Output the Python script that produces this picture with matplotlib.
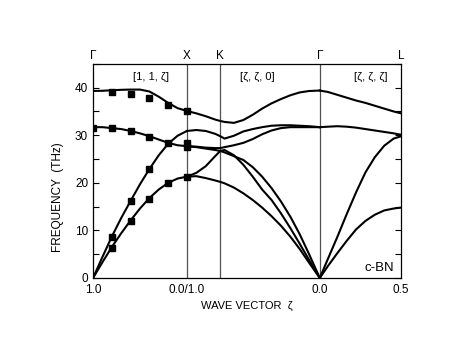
import matplotlib
matplotlib.use("Agg")
import matplotlib.pyplot as plt
import matplotlib.transforms as mtransforms

plt.rcParams['font.family'] = ['Liberation Sans', 'DejaVu Sans']

# path positions (Γ-X-K-Γ-L), in units of 2π/a along the path
SYM_POS = [0.0, 1.0, 1.354, 2.414, 3.28]
SYM_NAMES = ["Γ", "X", "K", "Γ", "L"]
TICK_LABELS = ["1.0", "0.0/1.0", "0.0", "0.5"]
TICK_POS = [0.0, 1.0, 2.414, 3.28]

# [1, 1, ζ]  Γ -> X
GX_Q = [0, 0.1, 0.2, 0.3, 0.4, 0.5, 0.6, 0.7, 0.8, 0.9, 1.0]
GX_LO = [39.3, 39.35, 39.45, 39.55, 39.6, 39.6, 39.2, 38.1, 36.8, 35.7, 35.1]
GX_TO = [31.7, 31.7, 31.5, 31.3, 30.9, 30.4, 29.8, 29.1, 28.4, 27.9, 27.7]
GX_LA = [0, 4.4, 8.7, 12.6, 16.2, 19.7, 22.9, 25.8, 28.2, 29.9, 30.9]
GX_TA = [0, 3.3, 6.5, 9.4, 12.1, 14.6, 16.8, 18.6, 20.0, 20.9, 21.3]

# [ζ, ζ, 0]  X -> K -> Γ
XG_Q = [1.0, 1.1, 1.2, 1.3, 1.354, 1.4, 1.5, 1.6, 1.7, 1.8, 1.9, 2.0, 2.1, 2.2, 2.3, 2.414]
XG_1 = [35.1, 34.6, 34.0, 33.3, 33.0, 32.8, 32.6, 33.2, 34.3, 35.6, 36.7, 37.6, 38.4, 39.0, 39.3, 39.4]
XG_2 = [30.9, 31.1, 30.9, 30.3, 29.8, 29.3, 29.9, 30.8, 31.3, 31.7, 32.0, 32.1, 32.1, 32.0, 31.9, 31.7]
XG_3 = [27.7, 27.6, 27.4, 27.3, 27.3, 27.5, 27.9, 28.4, 29.2, 30.2, 31.0, 31.5, 31.7, 31.7, 31.7, 31.7]
XG_4 = [27.7, 27.5, 27.2, 26.9, 26.7, 26.4, 25.6, 24.8, 23.3, 21.3, 18.9, 16.1, 12.9, 9.2, 5.0, 0]
XG_5 = [21.3, 22.1, 23.5, 25.6, 26.7, 26.9, 25.8, 23.8, 21.3, 18.6, 16.4, 13.6, 10.5, 7.2, 3.8, 0]
XG_6 = [21.3, 21.4, 21.0, 20.5, 20.2, 19.9, 19.0, 17.8, 16.4, 14.8, 13.0, 11.0, 8.7, 6.1, 3.2, 0]

# [ζ, ζ, ζ]  Γ -> L
GL_Q = [2.414, 2.5, 2.6, 2.7, 2.8, 2.9, 3.0, 3.1, 3.2, 3.28]
GL_LO = [39.4, 39.1, 38.5, 37.9, 37.3, 36.8, 36.2, 35.6, 35.0, 34.6]
GL_TO = [31.7, 31.8, 31.9, 31.8, 31.6, 31.3, 31.0, 30.7, 30.4, 30.1]
GL_LA = [0, 4.0, 8.6, 13.4, 18.0, 22.2, 25.4, 27.8, 29.3, 29.8]
GL_TA = [0, 2.5, 5.2, 7.8, 10.2, 12.0, 13.3, 14.2, 14.6, 14.8]

# measured points (squares)
EXP_Q = [0.0, 0.2, 0.4, 0.6, 0.8, 1.0,
         0.2, 0.4, 0.6, 0.8, 1.0, 1.0,
         0.2, 0.4, 0.6,
         0.2, 0.4, 0.6, 0.8, 1.0]
EXP_NU = [31.6, 39.1, 38.6, 37.8, 36.4, 35.1,
          31.6, 30.9, 29.7, 28.3, 27.6, 28.3,
          8.6, 16.2, 22.9,
          6.4, 12.0, 16.6, 19.9, 21.3]

fig = plt.figure(figsize=(4.77, 3.51), dpi=100)
ax = fig.add_axes([0.195, 0.208, 0.646, 0.610])

for xp in SYM_POS[1:4]:
    ax.axvline(xp, color='#505050', lw=0.9, zorder=1)

for ys in [GX_LO, GX_TO, GX_LA, GX_TA]:
    ax.plot(GX_Q, ys, color='black', lw=1.5, zorder=2)
for ys in [XG_1, XG_2, XG_3, XG_4, XG_5, XG_6]:
    ax.plot(XG_Q, ys, color='black', lw=1.5, zorder=2)
for ys in [GL_LO, GL_TO, GL_LA, GL_TA]:
    ax.plot(GL_Q, ys, color='black', lw=1.5, zorder=2)

ax.plot(EXP_Q, EXP_NU, 's', color='black', ms=4, zorder=3)

ax.set_xlim(SYM_POS[0], SYM_POS[-1])
ax.set_ylim(0, 45)
ax.set_xticks(TICK_POS)
ax.set_xticklabels(TICK_LABELS)
ax.set_yticks([0, 10, 20, 30, 40])
ax.set_yticks([5, 15, 25, 35, 45], minor=True)
ax.tick_params(axis='x', length=0, labelsize=8.5, pad=4)
ax.tick_params(axis='y', which='both', direction='in', right=True,
               labelsize=8.5, length=4, width=0.8)
for sp in ax.spines.values():
    sp.set_linewidth(0.9)

trans = mtransforms.blended_transform_factory(ax.transData, ax.transAxes)
for xp, name in zip(SYM_POS, SYM_NAMES):
    ax.text(xp, 1.01, name, transform=trans, ha='center', va='bottom', fontsize=8.5)

ax.text(0.62, 42.2, "[1, 1, ζ]", ha='center', va='center', fontsize=8)
ax.text(1.75, 42.2, "[ζ, ζ, 0]", ha='center', va='center', fontsize=8)
ax.text(2.96, 42.2, "[ζ, ζ, ζ]", ha='center', va='center', fontsize=8)
ax.text(3.2, 2.2, "c-BN", ha='right', va='center', fontsize=9.5)

ax.set_xlabel("WAVE VECTOR  ζ", fontsize=8, labelpad=4)
ax.set_ylabel("FREQUENCY  (THz)", fontsize=8.5)
ax.yaxis.set_label_coords(-0.095, 0.38)

fig.savefig("out.png", dpi=100)
